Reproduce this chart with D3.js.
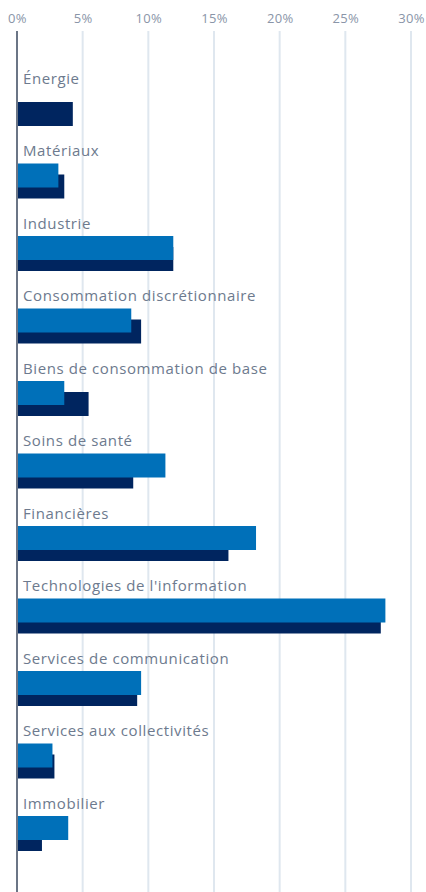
<!DOCTYPE html>
<html>
<head>
<meta charset="utf-8">
<script src="https://cdn.jsdelivr.net/npm/d3@7"></script>
<style>
  html, body { margin: 0; padding: 0; background: #fff; }
  svg { display: block; font-family: "Open Sans", sans-serif; }
</style>
</head>
<body>
<script>
// data
const categories = [
  "Énergie",
  "Matériaux",
  "Industrie",
  "Consommation discrétionnaire",
  "Biens de consommation de base",
  "Soins de santé",
  "Financières",
  "Technologies de l'information",
  "Services de communication",
  "Services aux collectivités",
  "Immobilier"
];
const fundValues = [0, 3.15, 11.9, 8.7, 3.6, 11.3, 18.2, 28.05, 9.45, 2.7, 3.9];
const indexValues = [4.25, 3.6, 11.9, 9.45, 5.45, 8.85, 16.1, 27.7, 9.15, 2.85, 1.9];
const tickValues = [0, 5, 10, 15, 20, 25, 30];

// sizes
const w = 426;
const h = 892;
const left = 17;
const right = 411;
const gridTop = 31;
const rowTop = 61;
const rowStep = 72.5;
const barH = 24;

const x = d3.scaleLinear().domain([0, 30]).range([left, right]);
const y = d3.scaleBand()
  .domain(categories)
  .range([rowTop, rowTop + rowStep * categories.length]);

const svg = d3.select("body").append("svg")
  .attr("width", w)
  .attr("height", h);

// gridlines
svg.append("g")
  .selectAll("line")
  .data(tickValues.slice(1))
  .enter()
  .append("line")
  .attr("x1", d => x(d))
  .attr("x2", d => x(d))
  .attr("y1", gridTop)
  .attr("y2", h)
  .attr("stroke", "#dfe7ef")
  .attr("stroke-width", 2);

// top axis labels
const topAxis = d3.axisTop(x)
  .tickValues(tickValues)
  .tickSize(0)
  .tickPadding(0)
  .tickFormat(d => d + "%");

svg.append("g")
  .attr("transform", "translate(0,23)")
  .call(topAxis)
  .call(g => g.select(".domain").remove())
  .call(g => g.selectAll("text")
    .attr("fill", "#8a95a8")
    .attr("font-size", 13)
    .attr("letter-spacing", 0.3)
    .attr("font-family", "Open Sans, sans-serif"));

// dark bars (behind)
svg.append("g")
  .selectAll("rect")
  .data(categories)
  .enter()
  .append("rect")
  .attr("x", x(0))
  .attr("y", d => y(d) + 41)
  .attr("width", (d, i) => x(indexValues[i]) - x(0))
  .attr("height", barH)
  .attr("fill", "#00255f");

// light bars
svg.append("g")
  .selectAll("rect")
  .data(categories)
  .enter()
  .append("rect")
  .attr("x", x(0))
  .attr("y", d => y(d) + 30)
  .attr("width", (d, i) => x(fundValues[i]) - x(0))
  .attr("height", barH)
  .attr("fill", "#0070b9");

// category labels
svg.append("g")
  .selectAll("text")
  .data(categories)
  .enter()
  .append("text")
  .attr("x", 23)
  .attr("y", d => y(d) + 22.5)
  .attr("fill", "#6d7a8e")
  .attr("font-size", 15)
  .attr("letter-spacing", 0.6)
  .text(d => d);

// vertical axis line
svg.append("line")
  .attr("x1", x(0))
  .attr("x2", x(0))
  .attr("y1", gridTop)
  .attr("y2", h)
  .attr("stroke", "#6b7586")
  .attr("stroke-width", 2);
</script>
</body>
</html>
